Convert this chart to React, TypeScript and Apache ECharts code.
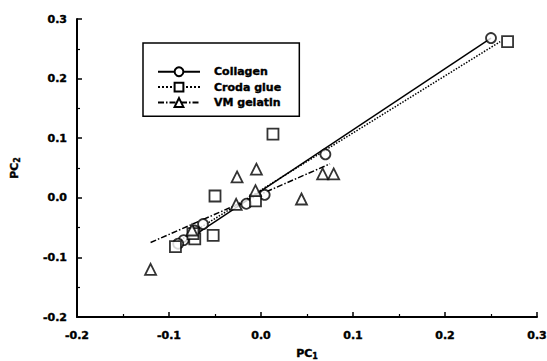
import React, { useEffect, useRef } from "react";
import * as echarts from "echarts";

// Principal-component scores (PC1, PC2) for each material
const collagenPoints: [number, number][] = [
  [0.25, 0.268], [0.07, 0.073], [0.004, 0.005], [-0.016, -0.01],
  [-0.063, -0.044], [-0.072, -0.055], [-0.084, -0.071], [-0.09, -0.077],
];
const crodaPoints: [number, number][] = [
  [0.268, 0.262], [0.013, 0.107], [-0.05, 0.003], [-0.052, -0.063],
  [-0.006, -0.005], [-0.072, -0.069], [-0.093, -0.082], [-0.074, -0.06],
];
const vmPoints: [number, number][] = [
  [-0.12, -0.12], [-0.026, 0.035], [-0.005, 0.048], [0.067, 0.04],
  [0.079, 0.04], [0.044, -0.002], [-0.006, 0.012], [-0.027, -0.011],
  [-0.075, -0.054],
];

// Regression line end points
const collagenFit: [number, number][] = [[-0.088, -0.079], [0.25, 0.268]];
const crodaFit: [number, number][] = [[-0.093, -0.076], [0.26, 0.262]];
const vmFit: [number, number][] = [[-0.12, -0.075], [0.075, 0.057]];

const seriesNames = ["Collagen", "Croda glue", "VM gelatin"];

const FONT = "DejaVu Sans";

export default function App() {
  const ref = useRef<HTMLDivElement>(null);

  useEffect(() => {
    if (!ref.current) return;
    const chart = echarts.init(ref.current, null, { renderer: "svg" });

    const markerStyle = {
      color: "#fff",
      borderColor: "#000",
      borderWidth: 1.8,
    };

    const heavyText = {
      color: "#000",
      fontFamily: FONT,
      fontWeight: "bold" as const,
      fontSize: 11,
      textBorderColor: "#000",
      textBorderWidth: 0.4,
    };

    const axisCommon = {
      type: "value" as const,
      min: -0.2,
      max: 0.3,
      interval: 0.1,
      splitLine: { show: false },
      axisLine: { show: true, onZero: false, lineStyle: { color: "#000", width: 2 } },
      axisTick: { show: true, inside: true, length: 5, lineStyle: { color: "#000", width: 1.5 } },
      minorTick: { show: true, splitNumber: 2, length: 3, lineStyle: { color: "#000", width: 1.2 } },
      axisLabel: {
        ...heavyText,
        formatter: (v: number) => v.toFixed(1),
      },
      nameLocation: "middle" as const,
      nameTextStyle: {
        ...heavyText,
        rich: {
          sub: { ...heavyText, fontSize: 8, verticalAlign: "bottom" as const, padding: [6, 0, 0, 0] },
        },
      },
    };

    const fitLine = (name: string, data: [number, number][], symbol: string, type: any) => ({
      name,
      type: "line" as const,
      data,
      symbol,
      symbolSize: 9,
      showSymbol: false,
      itemStyle: markerStyle,
      lineStyle: { color: "#000", width: 1.5, type },
      z: 2,
      silent: true,
    });

    const scatter = (name: string, data: [number, number][], symbol: string, size: number) => ({
      name,
      type: "scatter" as const,
      data,
      symbol,
      symbolSize: size,
      itemStyle: markerStyle,
      z: 3,
    });

    chart.setOption({
      animation: false,
      backgroundColor: "#fff",
      grid: {
        left: 77, right: 10, top: 19, bottom: 44,
        containLabel: false,
        outerBoundsMode: "none",
      },
      xAxis: {
        ...axisCommon,
        name: "PC{sub|1}",
        nameGap: 29,
        axisLabel: { ...axisCommon.axisLabel, margin: 13 },
      },
      yAxis: {
        ...axisCommon,
        name: "PC{sub|2}",
        nameGap: 56,
        axisLabel: { ...axisCommon.axisLabel, margin: 10 },
      },
      legend: {
        data: seriesNames,
        orient: "vertical",
        left: 143,
        top: 43,
        padding: [23, 18, 8, 14],
        itemWidth: 42,
        itemHeight: 11,
        itemGap: 4,
        borderColor: "#000",
        borderWidth: 1.5,
        backgroundColor: "#fff",
        selectedMode: false,
        textStyle: {
          ...heavyText,
          padding: [0, 0, 0, 9],
        },
      },
      series: [
        fitLine(seriesNames[0], collagenFit, "circle", "solid"),
        fitLine(seriesNames[1], crodaFit, "rect", "dotted"),
        fitLine(seriesNames[2], vmFit, "triangle", [6, 2, 1.5, 2]),
        scatter("Collagen samples", collagenPoints, "circle", 10),
        scatter("Croda glue samples", crodaPoints, "rect", 11),
        scatter("VM gelatin samples", vmPoints, "triangle", 11),
      ],
    });

    return () => chart.dispose();
  }, []);

  return <div ref={ref} style={{ width: 547, height: 361, position: "fixed", left: 0, top: 0 }} />;
}
